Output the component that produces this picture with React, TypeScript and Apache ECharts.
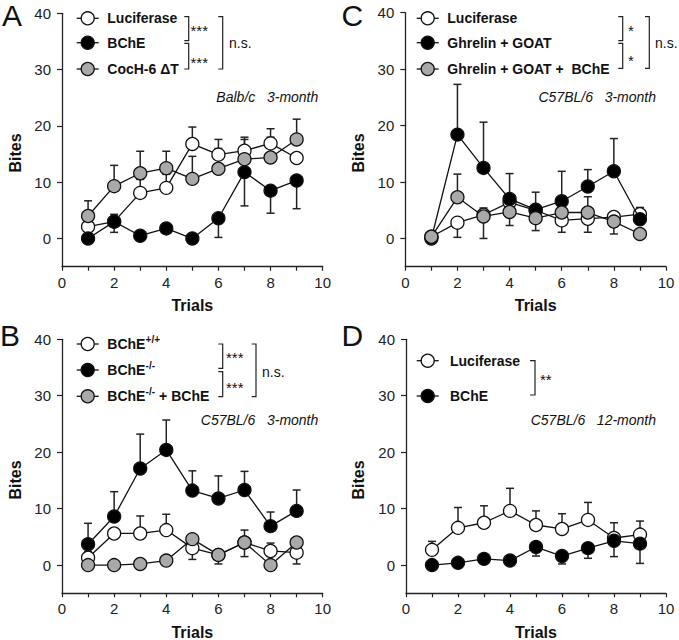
import React, { useEffect, useRef } from "react";
import * as echarts from "echarts";

// ---------- data ----------
const trials = [1, 2, 3, 4, 5, 6, 7, 8, 9];
const xTickLabels = [0, 2, 4, 6, 8, 10];
const yTickValues = [0, 10, 20, 30, 40];
const none = [0, 0, 0, 0, 0, 0, 0, 0, 0];

// Panel A (Balb/c 3-month)
const aLuciferase = [2.1, 3.0, 8.1, 9.0, 16.8, 14.9, 15.6, 16.9, 14.3];
const aLuciferaseErrUp = [0, 1.3, 2.4, 2.4, 3.0, 2.7, 2.4, 2.6, 0];
const aBChE = [0, 3.0, 0.5, 1.8, 0, 3.6, 11.8, 8.5, 10.3];
const aBChEErrDown = [0, 1.9, 0, 0, 0, 3.4, 6.0, 4.0, 5.0];
const aCocH = [4.0, 9.3, 11.6, 12.5, 10.6, 12.4, 14.1, 14.4, 17.6];
const aCocHErrUp = [2.7, 3.7, 3.9, 3.0, 4.0, 3.6, 3.5, 3.6, 3.6];

// Panel B (C57BL/6 3-month)
const bWildType = [1.3, 5.6, 5.6, 6.2, 3.0, 1.8, 4.0, 2.5, 2.2];
const bWildTypeErrUp = [1.1, 0, 3.1, 2.8, 0, 0, 0, 1.4, 0];
const bWildTypeErrDown = [0, 0, 0, 0, 2.0, 1.6, 2.5, 0, 2.0];
const bKnockout = [3.7, 8.6, 17.1, 20.4, 13.2, 11.8, 13.3, 6.9, 9.6];
const bKnockoutErrUp = [3.7, 4.4, 6.1, 5.3, 3.5, 4.0, 3.3, 2.5, 3.7];
const bRescue = [0, 0, 0.2, 0.8, 4.6, 1.8, 4.0, 0, 4.0];
const bRescueErrUp = [0, 0, 0, 0, 0, 0, 2.2, 0, 0];

// Panel C (C57BL/6 3-month, ghrelin)
const cLuciferase = [0.3, 2.8, 4.2, 6.4, 5.0, 3.2, 3.5, 3.8, 4.3];
const cLuciferaseErrUp = [0, 0, 1.2, 0, 0, 0, 0, 0.8, 1.2];
const cLuciferaseErrDown = [0, 2.6, 0, 0, 0, 2.1, 2.4, 0, 0];
const cGhrelinGoat = [0, 18.4, 12.5, 7.0, 5.1, 6.6, 9.2, 11.9, 3.4];
const cGhrelinGoatErrUp = [0, 8.9, 8.1, 4.5, 3.1, 5.3, 3.0, 5.8, 0];
const cGhrelinGoatBChE = [0.3, 7.3, 3.9, 4.7, 3.6, 4.6, 4.6, 3.0, 0.8];
const cGhrelinGoatBChEErrUp = [0, 4.1, 0, 0, 0, 0, 2.8, 0, 0];
const cGhrelinGoatBChEErrDown = [0, 0, 3.9, 2.4, 2.2, 0, 0, 2.2, 0];

// Panel D (C57BL/6 12-month)
const dLuciferase = [2.7, 6.6, 7.5, 9.6, 7.1, 6.4, 8.0, 4.8, 5.4];
const dLuciferaseErrUp = [1.5, 3.6, 3.0, 4.0, 2.5, 2.7, 3.1, 2.7, 2.4];
const dBChE = [0, 0.4, 1.1, 0.8, 3.2, 1.6, 3.0, 4.3, 3.8];
const dBChEErrDown = [0, 0, 0, 0, 1.6, 1.4, 1.8, 2.8, 3.5];

// ---------- styles ----------
const FONT = '"Liberation Sans", Arial, Helvetica, sans-serif';
const INK = "#111";
const WHITE = "#ffffff";
const BLACK = "#000000";
const GRAY = "#a9a9a9";

type SeriesDef = { name: string; values: number[]; up: number[]; down: number[]; fill: string };

const panelSeries: SeriesDef[][] = [
  [
    { name: "Luciferase", values: aLuciferase, up: aLuciferaseErrUp, down: none, fill: WHITE },
    { name: "BChE", values: aBChE, up: none, down: aBChEErrDown, fill: BLACK },
    { name: "CocH-6 ΔT", values: aCocH, up: aCocHErrUp, down: none, fill: GRAY },
  ],
  [
    { name: "Luciferase", values: cLuciferase, up: cLuciferaseErrUp, down: cLuciferaseErrDown, fill: WHITE },
    { name: "Ghrelin + GOAT", values: cGhrelinGoat, up: cGhrelinGoatErrUp, down: none, fill: BLACK },
    { name: "Ghrelin + GOAT +  BChE", values: cGhrelinGoatBChE, up: cGhrelinGoatBChEErrUp, down: cGhrelinGoatBChEErrDown, fill: GRAY },
  ],
  [
    { name: "BChE+/+", values: bWildType, up: bWildTypeErrUp, down: bWildTypeErrDown, fill: WHITE },
    { name: "BChE-/-", values: bKnockout, up: bKnockoutErrUp, down: none, fill: BLACK },
    { name: "BChE-/- + BChE", values: bRescue, up: bRescueErrUp, down: none, fill: GRAY },
  ],
  [
    { name: "Luciferase", values: dLuciferase, up: dLuciferaseErrUp, down: none, fill: WHITE },
    { name: "BChE", values: dBChE, up: none, down: dBChEErrDown, fill: BLACK },
  ],
];

const grids = [
  { left: 62, top: 13.3, width: 260.7, height: 253.4 },
  { left: 405.3, top: 12.7, width: 260.7, height: 254 },
  { left: 62, top: 339.3, width: 260.7, height: 254 },
  { left: 406, top: 339.3, width: 260, height: 254 },
];

function buildOption() {
  const xAxis: any[] = [];
  const yAxis: any[] = [];
  const series: any[] = [];
  grids.forEach((_, g) => {
    xAxis.push({
      gridIndex: g,
      type: "value",
      min: 0,
      max: 10,
      interval: 1,
      axisLine: { show: true, onZero: false, lineStyle: { color: "#222", width: 1.3 } },
      axisTick: { show: true, length: 4, lineStyle: { color: "#222", width: 1.2 } },
      axisLabel: {
        formatter: (v: number) => (xTickLabels.indexOf(v) >= 0 ? String(v) : ""),
        fontSize: 15,
        color: "#222",
        fontFamily: FONT,
        margin: 8,
      },
      splitLine: { show: false },
      name: "Trials",
      nameLocation: "middle",
      nameGap: 31,
      nameTextStyle: { fontWeight: "bold", fontSize: 16, color: INK, fontFamily: FONT },
    });
    yAxis.push({
      gridIndex: g,
      type: "value",
      min: -5,
      max: 40,
      interval: 5,
      axisLine: { show: true, onZero: false, lineStyle: { color: "#222", width: 1.3 } },
      axisTick: { show: true, length: 5, customValues: yTickValues, lineStyle: { color: "#222", width: 1.2 } },
      axisLabel: {
        customValues: yTickValues,
        fontSize: 15,
        color: "#222",
        fontFamily: FONT,
        margin: 11,
      },
      splitLine: { show: false },
    });
    panelSeries[g].forEach((s) => {
      series.push({
        type: "custom",
        xAxisIndex: g,
        yAxisIndex: g,
        z: 2,
        silent: true,
        data: trials.map((t, i) => [t, s.values[i] - s.down[i], s.values[i] + s.up[i], s.down[i] > 0 ? 1 : 0, s.up[i] > 0 ? 1 : 0]),
        renderItem: (_p: any, api: any) => {
          const x = api.value(0);
          const lo = api.coord([x, api.value(1)]);
          const hi = api.coord([x, api.value(2)]);
          const st = { stroke: "#222", lineWidth: 1.5 };
          const ch: any[] = [];
          if (Math.abs(hi[1] - lo[1]) > 0.1) {
            ch.push({ type: "line", shape: { x1: lo[0], y1: lo[1], x2: hi[0], y2: hi[1] }, style: st });
          }
          if (api.value(3) > 0) ch.push({ type: "line", shape: { x1: lo[0] - 4, y1: lo[1], x2: lo[0] + 4, y2: lo[1] }, style: st });
          if (api.value(4) > 0) ch.push({ type: "line", shape: { x1: hi[0] - 4, y1: hi[1], x2: hi[0] + 4, y2: hi[1] }, style: st });
          return { type: "group", children: ch };
        },
      });
    });
    panelSeries[g].forEach((s, k) => {
      series.push({
        type: "line",
        name: s.name,
        xAxisIndex: g,
        yAxisIndex: g,
        z: 3 + k,
        silent: true,
        data: trials.map((t, i) => [t, s.values[i]]),
        symbol: "circle",
        symbolSize: 13,
        showAllSymbol: true,
        lineStyle: { color: INK, width: 1.3 },
        itemStyle: { color: s.fill, borderColor: INK, borderWidth: 1.3 },
      });
    });
  });

  const graphic: any[] = [];
  const txt = (text: string, x: number, y: number, opts: any = {}) => {
    graphic.push({
      type: "text",
      x,
      y,
      rotation: opts.rotation || 0,
      silent: true,
      style: {
        text,
        font: `${opts.italic ? "italic " : ""}${opts.bold ? "bold " : ""}${opts.size || 14}px ${FONT}`,
        fill: opts.color || INK,
        align: opts.align || "left",
        verticalAlign: opts.valign || "middle",
      },
    });
  };
  const legendMarker = (cx: number, cy: number, fill: string) => {
    graphic.push({ type: "line", silent: true, shape: { x1: cx - 11, y1: cy, x2: cx + 11, y2: cy }, style: { stroke: INK, lineWidth: 1.3 } });
    graphic.push({ type: "circle", silent: true, shape: { cx, cy, r: 6.5 }, style: { fill, stroke: INK, lineWidth: 1.3 } });
  };
  const bracket = (xL: number, xV: number, yT: number, yB: number) => {
    graphic.push({
      type: "polyline",
      silent: true,
      shape: { points: [[xL, yT], [xV, yT], [xV, yB], [xL, yB]] },
      style: { stroke: "#222", lineWidth: 1.2, fill: "none" },
    });
  };

  // Panel letters
  txt("A", 2, 15.5, { size: 30 });
  txt("C", 341.5, 15.5, { size: 30 });
  txt("B", 0, 335, { size: 30 });
  txt("D", 341.5, 335, { size: 30 });

  // Bites titles
  txt("Bites", 15, 153, { bold: true, size: 16, rotation: Math.PI / 2, align: "center" });
  txt("Bites", 358.3, 153, { bold: true, size: 16, rotation: Math.PI / 2, align: "center" });
  txt("Bites", 15, 480, { bold: true, size: 16, rotation: Math.PI / 2, align: "center" });
  txt("Bites", 358.3, 480, { bold: true, size: 16, rotation: Math.PI / 2, align: "center" });

  // Legend A
  const rowsA = [18.3, 42.7, 69];
  panelSeries[0].forEach((s, i) => {
    legendMarker(87.7, rowsA[i], s.fill);
    txt(s.name, 107.3, rowsA[i], { bold: true });
  });
  // Legend C
  const rowsC = [18.3, 42.7, 69];
  panelSeries[1].forEach((s, i) => {
    legendMarker(427.7, rowsC[i], s.fill);
    txt(s.name, 447.3, rowsC[i], { bold: true });
  });
  // Legend B (with superscripts)
  const rowsB = [344, 370, 396.3];
  panelSeries[2].forEach((s, i) => legendMarker(87.7, rowsB[i], s.fill));
  txt("BChE", 107.3, rowsB[0], { bold: true });
  txt("+/+", 145.6, rowsB[0] - 4.5, { bold: true, size: 10 });
  txt("BChE", 107.3, rowsB[1], { bold: true });
  txt("-/-", 145.6, rowsB[1] - 4.5, { bold: true, size: 10 });
  txt("BChE", 107.3, rowsB[2], { bold: true });
  txt("-/-", 145.6, rowsB[2] - 4.5, { bold: true, size: 10 });
  txt(" + BChE", 155.2, rowsB[2], { bold: true });
  // Legend D
  const rowsD = [360.7, 396];
  panelSeries[3].forEach((s, i) => {
    legendMarker(427.7, rowsD[i], s.fill);
    txt(s.name, 450, rowsD[i], { bold: true });
  });

  // Significance brackets
  bracket(184.3, 188.7, 16.7, 40.7);
  bracket(184.3, 188.7, 43.3, 69);
  bracket(218.3, 222.7, 16.7, 69);
  txt("***", 190.5, 30.5, { size: 15 });
  txt("***", 190.5, 62, { size: 15 });
  txt("n.s.", 229, 43);

  bracket(618.3, 622.7, 16.7, 40.7);
  bracket(618.3, 622.7, 43.3, 68.3);
  bracket(645, 649.3, 16.7, 68.3);
  txt("*", 628, 30.5, { size: 15 });
  txt("*", 628, 60.5, { size: 15 });
  txt("n.s.", 655, 42.5);

  bracket(218.3, 222.7, 344, 368.3);
  bracket(218.3, 222.7, 371.7, 396.7);
  bracket(251.7, 256, 344, 396.7);
  txt("***", 226, 357, { size: 15 });
  txt("***", 226, 387, { size: 15 });
  txt("n.s.", 262, 371.7);

  bracket(530, 535, 360.7, 395);
  txt("**", 540, 379, { size: 15 });

  // Strain / age annotations
  txt("Balb/c   3-month", 318.3, 96.7, { italic: true, align: "right" });
  txt("C57BL/6   3-month", 656, 96.7, { italic: true, align: "right" });
  txt("C57BL/6   3-month", 318.3, 420, { italic: true, align: "right" });
  txt("C57BL/6   12-month", 656, 420, { italic: true, align: "right" });

  return {
    animation: false,
    backgroundColor: "#ffffff",
    textStyle: { fontFamily: FONT },
    grid: grids.map((g) => ({ ...g, containLabel: false, outerBoundsMode: "none" })),
    xAxis,
    yAxis,
    series,
    graphic,
  };
}

export default function App() {
  const ref = useRef<HTMLDivElement>(null);
  useEffect(() => {
    if (!ref.current) return;
    const chart = echarts.init(ref.current, undefined, { renderer: "svg" });
    chart.setOption(buildOption() as any);
    return () => chart.dispose();
  }, []);
  return (
    <div
      ref={ref}
      style={{ position: "absolute", left: 0, top: 0, width: 679, height: 640, background: "#fff" }}
    />
  );
}
